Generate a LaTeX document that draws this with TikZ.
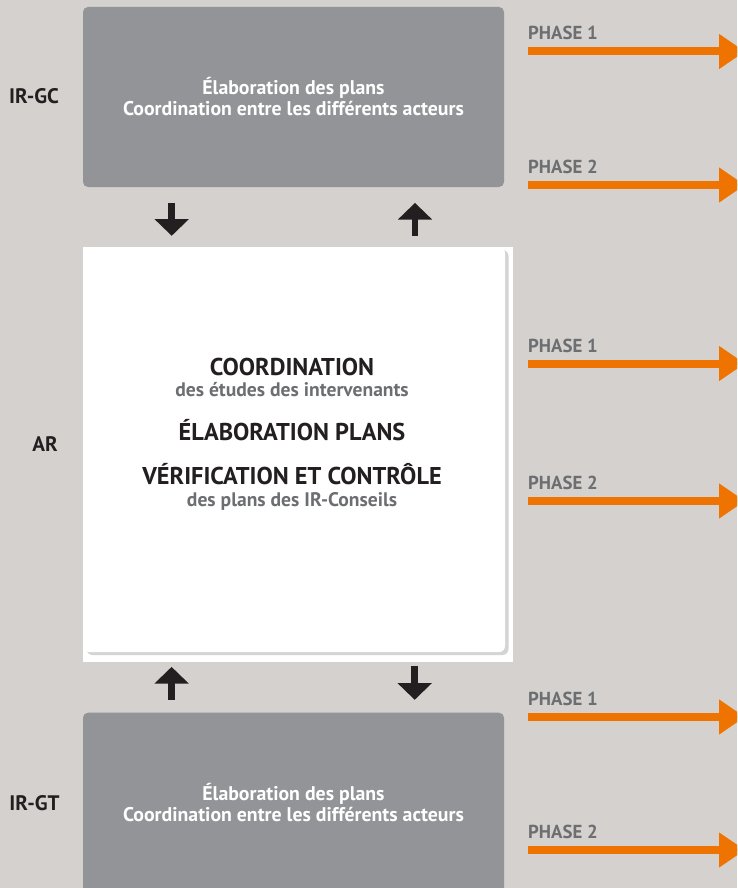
\documentclass[tikz,border=0pt]{standalone}
\usepackage{fontspec}
\setmainfont{PT Sans}
\usepackage{tikz}
\usetikzlibrary{arrows.meta,shadows}
\definecolor{bggrey}{HTML}{D4D1CE}
\definecolor{boxgrey}{HTML}{939498}
\definecolor{darktext}{HTML}{231F20}
\definecolor{midtext}{HTML}{6D6E71}
\definecolor{phaseorange}{HTML}{EF7300}
\tikzset{
	greybox/.style={fill=boxgrey, rounded corners=5pt, minimum width=421pt, minimum height=180pt, inner sep=0pt,
		text=white, align=center, font=\bfseries\fontsize{19.8}{21}\selectfont},
	whitebox/.style={fill=white, rounded corners=6pt, minimum width=422pt, minimum height=405pt, inner sep=0pt,
		drop shadow={shadow xshift=3.5pt, shadow yshift=-3pt, fill=black!17, opacity=1}},
	sidelabel/.style={text=darktext, anchor=base, inner sep=0pt, font=\bfseries\fontsize{21}{24}\selectfont},
	bigtitle/.style={text=darktext, anchor=base, inner sep=0pt, font=\bfseries\fontsize{24.3}{28}\selectfont},
	subtitle/.style={text=midtext, anchor=base, inner sep=0pt, font=\bfseries\fontsize{19.6}{22}\selectfont},
	phaselabel/.style={text=midtext, anchor=base west, inner sep=0pt, font=\bfseries\fontsize{18.8}{22}\selectfont},
	phasearrow/.style={draw=phaseorange, line width=8pt, -{Triangle[width=33.4pt,length=26pt]}},
	updown/.style={draw=darktext, line width=6.7pt, -{Triangle[width=33.4pt,length=16.7pt]}}
}
\begin{document}
\begin{tikzpicture}[x=1pt, y=-1pt]
		%%%%% START %%%%%
		
		\fill[bggrey] (0, 0) rectangle (737, 888);
		\useasboundingbox (0, 0) rectangle (737, 888);
		\clip (0, 0) rectangle (737, 888);
		
		% the three groups
		\node[greybox] (gc) at (293.5, 97) {Élaboration des plans\\Coordination entre les différents acteurs};
		
		\fill[white] (83, 247) rectangle (513, 662);
		\node[whitebox] (ar) at (294, 449.5) {};
		
		\node[greybox] (gt) at (293.5, 802.7) {Élaboration des plans\\Coordination entre les différents acteurs};
		
		\node[sidelabel] (lgc) at (34, 104) {IR-GC};
		\node[sidelabel] (lar) at (45, 451.7) {AR};
		\node[sidelabel] (lgt) at (34.5, 810.7) {IR-GT};
		
		% text of AR
		\node[bigtitle] (coord) at (292, 375) {COORDINATION};
		\node[subtitle] (etudes) at (292, 396.7) {des études des intervenants};
		\node[bigtitle] (elab) at (292, 440.7) {ÉLABORATION PLANS};
		\node[bigtitle] (verif) at (292, 484) {VÉRIFICATION ET CONTRÔLE};
		\node[subtitle] (conseils) at (292, 506.7) {des plans des IR-Conseils};
		
		% exchanges
		\draw[updown] ([xshift=-121.8pt, yshift=-15.7pt]gc.south) -- ([xshift=-122.3pt, yshift=11pt]ar.north);
		\draw[updown] ([xshift=121pt, yshift=11pt]ar.north) -- ([xshift=121.5pt, yshift=-15.7pt]gc.south);
		\draw[updown] ([xshift=-121.9pt, yshift=12.7pt]gt.north) -- ([xshift=-122.4pt, yshift=-14.7pt]ar.south);
		\draw[updown] ([xshift=120.7pt, yshift=-14pt]ar.south) -- ([xshift=121.2pt, yshift=12.7pt]gt.north);
		
		% phases
		\foreach \y/\n [count=\i] in {51.5/1, 185/2, 363.5/1, 501/2, 717/1, 850/2}{
			\coordinate (ps\i) at (528, \y);
			\coordinate (pe\i) at (745, \y);
			\node[phaselabel] (ph\i) at ([yshift=11.5pt]ps\i) {PHASE \n};
			\draw[phasearrow] (ps\i) -- (pe\i);
		}
		
		%%%%% END %%%%%
	\end{tikzpicture}
\end{document}
